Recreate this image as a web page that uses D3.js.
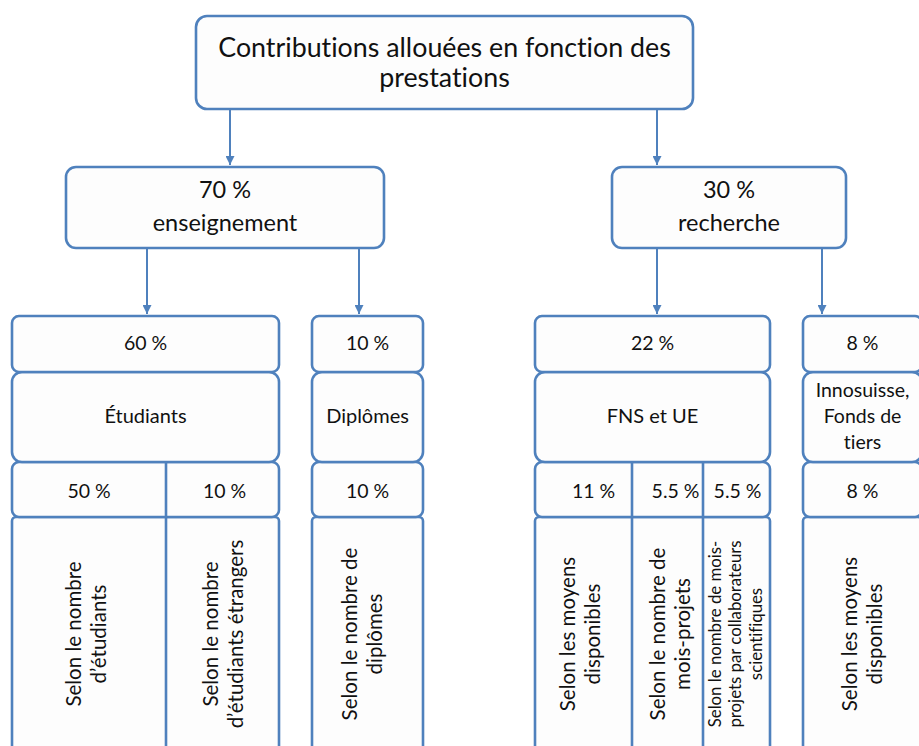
<!DOCTYPE html>
<html><head><meta charset="utf-8">
<script src="https://cdn.jsdelivr.net/npm/d3@7"></script>
<style>html,body{margin:0;padding:0;background:#fff;overflow:hidden}svg{display:block}text{font-variant-ligatures:none;font-feature-settings:"liga" 0}</style>
</head><body><svg id="c" width="919" height="746"></svg>
<script>
// ---- data ----
const rootLabel = ["Contributions allouées en fonction des", "prestations"];
const branchShares = ["70 %", "30 %"];
const branchNames = ["enseignement", "recherche"];
const groupShares = ["60 %", "10 %", "22 %", "8 %"];
const groupNames = [["Étudiants"], ["Diplômes"], ["FNS et UE"], ["Innosuisse,", "Fonds de", "tiers"]];
const groupParent = [0, 0, 1, 1];
const subShares = ["50 %", "10 %", "10 %", "11 %", "5.5 %", "5.5 %", "8 %"];
const subGroup = [0, 0, 1, 2, 2, 2, 3];
const subCriteria = [
  ["Selon le nombre", "d’étudiants"],
  ["Selon le nombre", "d’étudiants étrangers"],
  ["Selon le nombre de", "diplômes"],
  ["Selon les moyens", "disponibles"],
  ["Selon le nombre de", "mois-projets"],
  ["Selon le nombre de mois-", "projets par collaborateurs", "scientifiques"],
  ["Selon les moyens", "disponibles"]
];

// ---- layout ----
const L = {
  root: {x0: 196, x1: 693, y0: 16, y1: 109},
  branch: [{x0: 66, x1: 384, arrow: 230, kids: [147, 359]}, {x0: 612, x1: 846, arrow: 657, kids: [657, 822]}],
  branchY: [167, 248],
  group: [{x0: 12, x1: 279}, {x0: 312, x1: 423}, {x0: 535, x1: 770}, {x0: 803, x1: 922}],
  rowY: [316, 372, 462, 517, 752],
  subX: [[12,166],[166,279],[312,423],[535,632],[632,703],[703,770],[803,922]],
  subPctDx: [0, 2, 0, 10, 8, 1, 0],
  subTextCx: [86, 223, 362, 580, 670, 735, 862],
  textCy: 634
};
const stroke = "#4f81bd", fill = "#fdfdfd", font = "Lato, 'Open Sans', sans-serif";
const svg = d3.select("#c");
svg.append("defs").append("marker").attr("id","ar").attr("viewBox","0 0 10 10")
  .attr("refX",10).attr("refY",5).attr("markerWidth",4.5).attr("markerHeight",4.5)
  .attr("markerUnits","strokeWidth").attr("orient","auto")
  .append("path").attr("d","M0,0L10,5L0,10z").attr("fill",stroke);

function box(x0,y0,x1,y1,r){
  svg.append("rect").attr("x",x0).attr("y",y0).attr("width",x1-x0).attr("height",y1-y0)
    .attr("rx",r).attr("fill",fill).attr("stroke",stroke).attr("stroke-width",2.6);
}
function vline(x,y0,y1){svg.append("line").attr("x1",x).attr("x2",x).attr("y1",y0).attr("y2",y1).attr("stroke",stroke).attr("stroke-width",2.6);}
function arrow(x,y0,y1){svg.append("line").attr("x1",x).attr("x2",x).attr("y1",y0).attr("y2",y1-1).attr("stroke",stroke).attr("stroke-width",2).attr("marker-end","url(#ar)");}
function text(x,y,s,size){svg.append("text").attr("x",x).attr("y",y).attr("text-anchor","middle").attr("font-family",font).attr("font-size",size).attr("fill","#111").text(s);}

// root
const R = L.root;
box(R.x0,R.y0,R.x1,R.y1,11);
rootLabel.forEach((s,i)=>text((R.x0+R.x1)/2, 57+i*30, s, 26.8));

// branches
L.branch.forEach((b,i)=>{
  arrow(b.arrow, R.y1+1, L.branchY[0]-1);
  box(b.x0,L.branchY[0],b.x1,L.branchY[1],10);
  text((b.x0+b.x1)/2, 198, branchShares[i], 23.5);
  text((b.x0+b.x1)/2, 231, branchNames[i], 23.5);
  b.kids.forEach(k=>arrow(k, L.branchY[1]+1, L.rowY[0]-1));
});

// groups
const Y = L.rowY;
groupShares.forEach((g,i)=>{
  const G = L.group[i], cx=(G.x0+G.x1)/2;
  box(G.x0,Y[3],G.x1,Y[4],4);
  box(G.x0,Y[2],G.x1,Y[3],7);
  box(G.x0,Y[1],G.x1,Y[2],10);
  box(G.x0,Y[0],G.x1,Y[1],7);
  text(cx, 350, g, 19.5);
  const lines = groupNames[i];
  if(lines.length===1) text(cx, 423, lines[0], 20);
  else lines.forEach((s,j)=>text(cx, 397+j*26, s, 19.5));
});
// subdividers
subGroup.forEach((g,i)=>{
  const [x0,x1] = L.subX[i];
  if(i>0 && subGroup[i-1]===g) vline(x0, Y[2], Y[4]);
});
// sub shares and criteria
subShares.forEach((s,i)=>{
  const [x0,x1] = L.subX[i];
  text((x0+x1)/2 + L.subPctDx[i], 498, s, 19.5);
  const lines = subCriteria[i];
  const small = lines.length>2;
  const size = small?16.8:20.5, lh = small?20.5:25;
  const g = svg.append("g").attr("transform",`translate(${L.subTextCx[i]},${L.textCy}) rotate(-90)`);
  lines.forEach((t,j)=>{
    g.append("text").attr("x",0).attr("y",(j-(lines.length-1)/2)*lh + size*0.36)
      .attr("text-anchor","middle").attr("font-family",font).attr("font-size",size).attr("fill","#111").text(t);
  });
});
</script></body></html>
